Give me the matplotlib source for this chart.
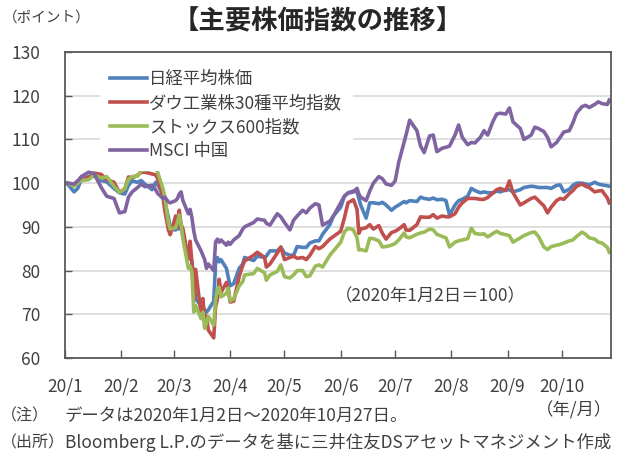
import pandas as pd
import matplotlib
matplotlib.use("Agg")
import matplotlib.pyplot as plt

plt.rcParams['font.family'] = ['Noto Sans CJK JP', 'DejaVu Sans']

# 2020年1月2日 = 100
dates = pd.to_datetime([
    "2020-01-02", "2020-01-06", "2020-01-08", "2020-01-10", "2020-01-14", "2020-01-17", "2020-01-21",
    "2020-01-24", "2020-01-28", "2020-01-31",
    "2020-02-03", "2020-02-05", "2020-02-07", "2020-02-10", "2020-02-12", "2020-02-14", "2020-02-18",
    "2020-02-20", "2020-02-21", "2020-02-24", "2020-02-25", "2020-02-27", "2020-02-28",
    "2020-03-02", "2020-03-03", "2020-03-04", "2020-03-05", "2020-03-06", "2020-03-09", "2020-03-10",
    "2020-03-11", "2020-03-12", "2020-03-13", "2020-03-16", "2020-03-17", "2020-03-18", "2020-03-19",
    "2020-03-20", "2020-03-23", "2020-03-24", "2020-03-25", "2020-03-26", "2020-03-27", "2020-03-30",
    "2020-03-31",
    "2020-04-01", "2020-04-03", "2020-04-06", "2020-04-08", "2020-04-09", "2020-04-14", "2020-04-16",
    "2020-04-20", "2020-04-21", "2020-04-23", "2020-04-27", "2020-04-29",
    "2020-05-01", "2020-05-04", "2020-05-06", "2020-05-08", "2020-05-11", "2020-05-13", "2020-05-15",
    "2020-05-18", "2020-05-20", "2020-05-22", "2020-05-26", "2020-05-28",
    "2020-06-01", "2020-06-03", "2020-06-05", "2020-06-08", "2020-06-10", "2020-06-11", "2020-06-12",
    "2020-06-15", "2020-06-17", "2020-06-19", "2020-06-22", "2020-06-24", "2020-06-26", "2020-06-29",
    "2020-07-01", "2020-07-03", "2020-07-06", "2020-07-07", "2020-07-09", "2020-07-13", "2020-07-15",
    "2020-07-17", "2020-07-20", "2020-07-22", "2020-07-24", "2020-07-27", "2020-07-29", "2020-07-31",
    "2020-08-03", "2020-08-05", "2020-08-07", "2020-08-10", "2020-08-12", "2020-08-14", "2020-08-17",
    "2020-08-19", "2020-08-21", "2020-08-24", "2020-08-26", "2020-08-28", "2020-08-31",
    "2020-09-02", "2020-09-04", "2020-09-08", "2020-09-10", "2020-09-14", "2020-09-16", "2020-09-18",
    "2020-09-21", "2020-09-23", "2020-09-25", "2020-09-28", "2020-09-30",
    "2020-10-02", "2020-10-05", "2020-10-07", "2020-10-09", "2020-10-12", "2020-10-14", "2020-10-16",
    "2020-10-19", "2020-10-21", "2020-10-23", "2020-10-26", "2020-10-27",
])

nikkei = [
    100, 98, 98.8, 100.8, 101.5, 101.6, 100.6, 100.3, 98.8, 97.8,
    97.5, 99.5, 100.5, 100.2, 100.6, 99.8, 98.5, 100.2, 99.7, 97.5, 95.8, 92.2, 89.5,
    89.3, 89.8, 89.5, 90, 88, 83, 83.5, 82, 78, 73.5, 72, 71.5, 71, 70.5, 71, 73, 81.5, 83, 82, 82.5, 80.5, 78.5,
    76.5, 77, 80.5, 81.5, 83, 82.3, 83.3, 83, 83.3, 84.5, 84.5, 85.3,
    84, 83.5, 83.5, 85.5, 85.3, 85.3, 86.3, 86.8, 86.8, 88.3, 90.5, 92.5,
    94.5, 97, 97.8, 98.2, 98, 96.5, 95, 92, 95.5, 95.5, 95.3, 95.6, 95, 93.8,
    94.5, 95, 95.8, 95.5, 96, 95.8, 96.8, 96.5, 96.3, 96.6, 96.2, 96.3, 96, 92.7,
    95, 96, 96.3, 97, 98.8, 98.3, 97.8, 98, 97.8, 97.8, 98.2, 98, 98.5,
    98.5, 98, 98.5, 99, 99.3, 99.2, 99, 99, 99, 98.8, 99.5, 99.6,
    98, 98.6, 99.5, 100, 100, 99.8, 99.6, 100.2, 99.8, 99.6, 99.4, 99.3,
]

dow = [
    100, 99.8, 100.5, 100.8, 101.3, 102.3, 102, 100.8, 100.2, 97.9,
    98.7, 101.4, 101.2, 101.8, 102.5, 102.5, 102.1, 101.9, 101.1, 96.9, 93.8, 89.3, 88.2,
    92.5, 89.8, 93.8, 90.5, 89.6, 82.6, 86.7, 81.6, 73.4, 80.3, 70, 73.6, 69, 69.6, 66.4, 64.6, 71.7, 73.4, 78, 75, 77.3, 76,
    72.8, 73, 78.6, 81.2, 82.2, 83.5, 84.2, 83, 80.8, 81.5, 84, 85.4,
    82.5, 83, 83.3, 82.8, 83, 82.5, 83.5, 85.5, 85, 85.5, 87.2, 87.8,
    89, 92, 95.5, 96.2, 94, 88.5, 89.5, 89.8, 90.5, 89.5, 90.3, 88.5, 87.2, 88.7,
    89, 89.5, 90.5, 89.3, 89.2, 90.5, 92.3, 92.2, 92.2, 92.8, 92, 92.5, 92.3, 92.3,
    93, 94.5, 95.5, 96.5, 96.5, 96.5, 96.3, 96.3, 96.7, 97.8, 98.5, 98.8, 98.3,
    100.5, 97.8, 95, 95.5, 96.5, 96.8, 96, 94.8, 93.2, 94.5, 96, 96.5,
    96.3, 97.6, 98.3, 99.3, 99.8, 99.3, 99, 98, 98.2, 98.3, 96.6, 95.5,
]

stoxx = [
    100, 99.3, 100, 100.6, 100.8, 101.8, 101.2, 101.5, 99.3, 97.9,
    98.7, 100.9, 101.5, 101.6, 102.9, 103, 103.2, 103.5, 102.6, 98.7, 96.9, 90.9, 89.5,
    89.8, 91, 92.7, 90.5, 87.3, 80.5, 81, 79.5, 70.5, 72, 69, 70.5, 66.8, 68, 69.5, 67.5, 73.3, 75.8, 76.2, 74, 74.8, 76,
    73, 73.5, 76.5, 77.5, 79, 79.3, 80.5, 79.5, 77.8, 79, 79.8, 81.3,
    78.6, 78.3, 79, 80, 80, 78.6, 78.8, 81, 81.3, 80.8, 83.5, 84.5,
    86.5, 88.8, 89.7, 89.3, 87.5, 84.7, 84.8, 84.5, 87.4, 87.3, 86.8, 85.4, 85.5, 85.8,
    86.2, 87, 88.6, 87.7, 87.5, 88.3, 88.6, 88.8, 89.5, 89.3, 88.3, 87.8, 87.5, 85.4,
    86.5, 86.8, 87, 87.3, 89.7, 88.5, 88.3, 88.4, 87.7, 88.5, 89, 88.5, 88.2,
    88, 86.5, 87.5, 88, 88.7, 88.8, 87.8, 85.4, 84.8, 85.5, 85.8, 86,
    86.3, 86.8, 87, 87.8, 88.8, 88.3, 87.5, 87.2, 86.5, 86.3, 85.3, 84.2,
]

msci_china = [
    100, 99.8, 100.5, 101.5, 102.5, 102.2, 99, 97, 96.5, 93.2,
    93.5, 96.8, 98, 99, 99.8, 99.2, 99.5, 98.5, 97.7, 96.5, 96.8, 95.7, 95.5,
    96, 96.5, 97.5, 98, 96, 93, 94, 92, 89, 87, 84.5, 83.5, 82.5, 80.5, 81.5, 80, 86.5, 87.2, 86.5, 87, 85.8, 86.5,
    86, 87, 88, 89.5, 90, 91, 91.8, 91.5, 90.8, 90.4, 93, 92.3,
    91, 89.3, 91.5, 92.5, 93.8, 93.2, 94.3, 95.3, 95, 90.4, 91.3, 92.5,
    95.5, 97, 97.7, 98, 98.8, 97.5, 96.8, 96, 98.2, 100, 101.5, 101, 99.8, 99.5,
    100.5, 104.8, 109.5, 111, 114.4, 112, 108.5, 107, 110.8, 111, 107.2, 108, 108.2, 108.5,
    111, 113.3, 110.5, 108.8, 109.3, 109.2, 110.5, 112, 111, 114.2, 115.8, 116, 115.8,
    117.2, 114, 112.5, 110, 111, 112.8, 112.5, 111.8, 110.5, 108.3, 109.3, 110.5,
    111.7, 112, 113.8, 116, 117.5, 117.8, 117.3, 118, 118.6, 118.2, 118, 119,
]

series_names = ["日経平均株価", "ダウ工業株30種平均指数", "ストックス600指数", "MSCI 中国"]
series_colors = ["#4F81BD", "#C0504D", "#9BBB59", "#8064A2"]

month_starts = pd.date_range("2020-01-01", "2020-10-01", freq="MS")
month_labels = ["20/1", "20/2", "20/3", "20/4", "20/5", "20/6", "20/7", "20/8", "20/9", "20/10"]

txt = "#404040"

fig = plt.figure(figsize=(6.22, 4.55), dpi=100)
ax = fig.add_axes([65 / 622, 1 - 358 / 455, 546 / 622, 306 / 455])

for vals, name, col in zip([nikkei, dow, stoxx, msci_china], series_names, series_colors):
    ax.plot(dates, vals, color=col, lw=2.6, label=name, solid_joinstyle="round")

ax.set_ylim(60, 130)
ax.set_yticks(range(60, 131, 10))
ax.set_xlim(pd.Timestamp("2020-01-01"), pd.Timestamp("2020-10-28"))
ax.set_xticks(month_starts)
ax.set_xticklabels(month_labels)
ax.grid(axis="y", color="#d9d9d9", lw=1.2)
ax.set_axisbelow(True)
for s in ax.spines.values():
    s.set_color("#595959")
    s.set_linewidth(1.3)
ax.tick_params(axis="y", direction="in", length=5, width=1, color="#595959",
               labelsize=12.5, labelcolor=txt, pad=18)
ax.tick_params(axis="x", direction="in", length=6, width=1, color="#595959",
               labelsize=12.5, labelcolor=txt, pad=14)

leg = ax.legend(loc="upper left", bbox_to_anchor=(0.064, 0.975), borderaxespad=0,
                fontsize=12.5, frameon=True, handlelength=2.1, handletextpad=0.15,
                labelspacing=0.35, borderpad=0.6)
leg.get_frame().set_facecolor("white")
leg.get_frame().set_edgecolor("none")
leg.get_frame().set_alpha(1)
for t in leg.get_texts():
    t.set_color(txt)

ax.text(0.67, 0.2, "（2020年1月2日＝100）", transform=ax.transAxes, ha="center", va="center",
        fontsize=12.5, color=txt)

fig.text(0.51, 1 - 22 / 455, "【主要株価指数の推移】", ha="center", va="center",
         fontsize=19, fontweight="bold", color="#262626")
fig.text(3 / 622, 1 - 18 / 455, "（ポイント）", ha="left", va="center", fontsize=10.5, color=txt)
fig.text(612 / 622, 1 - 410 / 455, "（年/月）", ha="right", va="center", fontsize=12.5, color=txt)
fig.text(1 / 622, 1 - 416 / 455, "（注）", ha="left", va="center", fontsize=11.5, color=txt)
fig.text(65 / 622, 1 - 416 / 455, "データは2020年1月2日～2020年10月27日。", ha="left", va="center",
         fontsize=12.5, color=txt)
fig.text(1 / 622, 1 - 443 / 455, "（出所）", ha="left", va="center", fontsize=11.5, color=txt)
fig.text(65 / 622, 1 - 443 / 455, "Bloomberg L.P.のデータを基に三井住友DSアセットマネジメント作成",
         ha="left", va="center", fontsize=12.5, color=txt)

fig.savefig("out.png", dpi=100)
